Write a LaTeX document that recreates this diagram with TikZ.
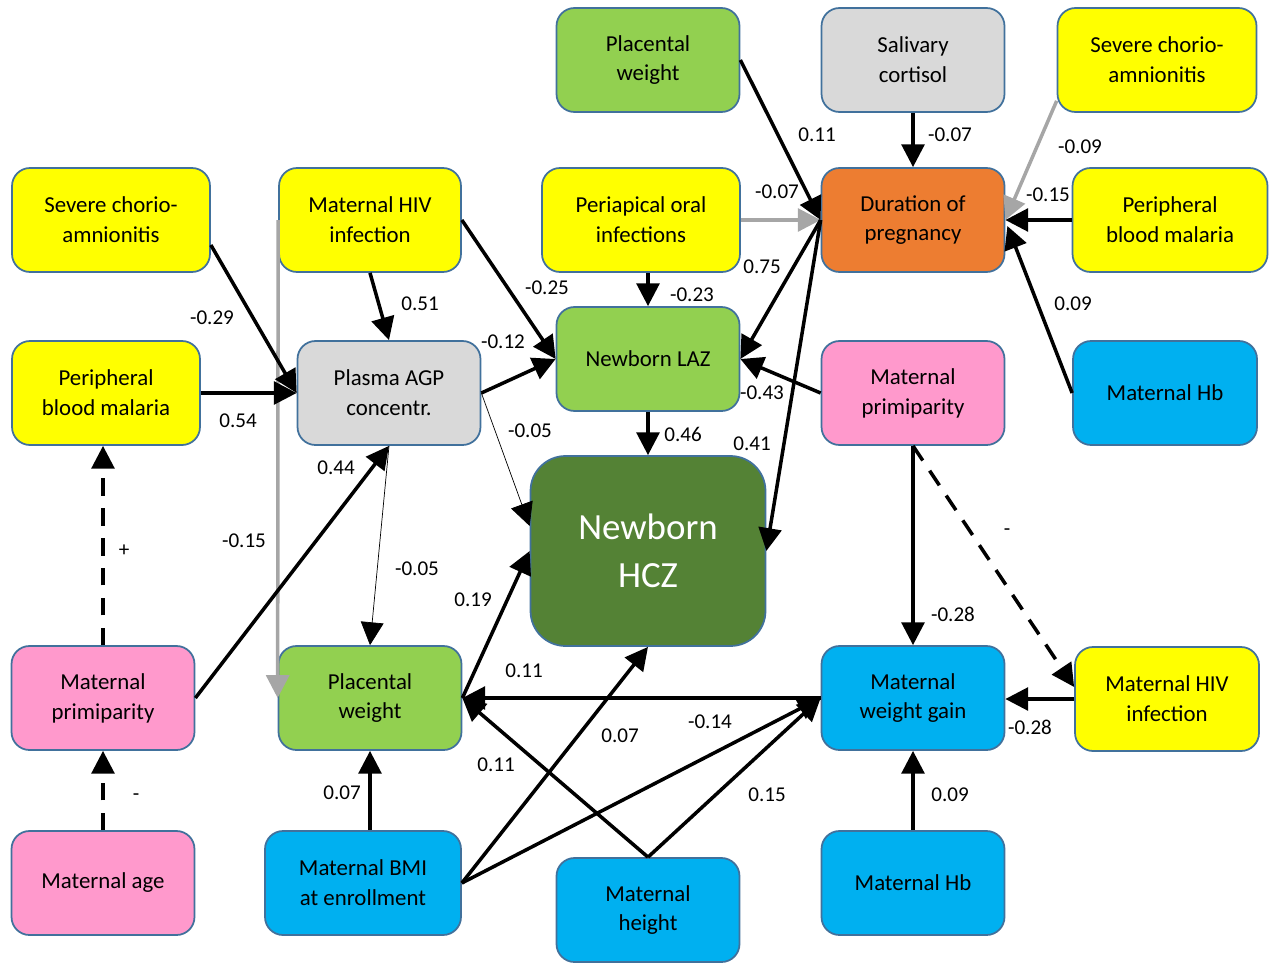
\documentclass[tikz,border=0pt]{standalone}
\usepackage{fontspec}
\setmainfont{Carlito}
\usetikzlibrary{arrows.meta,calc}
\definecolor{boxline}{HTML}{41719C}
\definecolor{cyel}{HTML}{FFFF00}
\definecolor{cgrn}{HTML}{92D050}
\definecolor{cgry}{HTML}{D9D9D9}
\definecolor{corg}{HTML}{ED7D31}
\definecolor{cpnk}{HTML}{FF99CC}
\definecolor{cblu}{HTML}{00B0F0}
\definecolor{cdgr}{HTML}{548235}
\definecolor{cgline}{HTML}{A6A6A6}
\begin{document}
\begin{tikzpicture}[x=0.02cm, y=-0.02cm, line join=round, >={Triangle[length=13pt,width=13pt]}]
    \tikzset{box/.style={draw=boxline, line width=1pt, rounded corners=0.36cm, align=center,
                 minimum width=3.66cm, minimum height=2.08cm, inner sep=2pt, font=\fontsize{13}{17}\selectfont},
             lbl/.style={font=\fontsize{12}{14}\selectfont, inner sep=0pt},
             path/.style={->, line width=2pt},
             grey path/.style={->, line width=2pt, draw=cgline, cgline},
             thin path/.style={->, line width=0.4pt},
             dash path/.style={->, line width=2pt, dash pattern=on 10pt off 7pt}}
    \useasboundingbox (0,0) rectangle (1270,963);
    \node[box, fill=cgrn] (pwt) at (648,60) {Placental\\weight};
    \node[box, fill=cgry] (sc) at (913,60) {Salivary\\cortisol};
    \node[box, fill=cyel, minimum width=3.98cm] (scar) at (1157,60) {Severe chorio-\\amnionitis};
    \node[box, fill=cyel, minimum width=3.96cm] (scal) at (111,220) {Severe chorio-\\amnionitis};
    \node[box, fill=cyel, minimum width=3.64cm] (hivt) at (370,220) {Maternal HIV\\infection};
    \node[box, fill=cyel, minimum width=3.96cm] (poi) at (641,220) {Periapical oral\\infections};
    \node[box, fill=corg] (dur) at (913,220) {Duration of\\pregnancy};
    \node[box, fill=cyel, minimum width=3.9cm] (pbmr) at (1170,220) {Peripheral\\blood malaria};
    \node[box, fill=cyel, minimum width=3.76cm] (pbml) at (106,393) {Peripheral\\blood malaria};
    \node[box, fill=cgry] (agp) at (389,393) {Plasma AGP\\concentr.};
    \node[box, fill=cgrn] (laz) at (648,359) {Newborn LAZ};
    \node[box, fill=cpnk] (mpr) at (913,393) {Maternal\\primiparity};
    \node[box, fill=cblu, minimum width=3.68cm] (hbr) at (1165,393) {Maternal Hb};
    \node[box, fill=cdgr, text=white, minimum width=4.7cm, minimum height=3.8cm, rounded corners=0.7cm,
          font=\fontsize{21}{27}\selectfont] (hcz) at (648,551) {Newborn\\HCZ};
    \node[box, fill=cpnk] (mpl) at (103,698) {Maternal\\primiparity};
    \node[box, fill=cgrn] (pwb) at (370,698) {Placental\\weight};
    \node[box, fill=cblu] (mwg) at (913,698) {Maternal\\weight gain};
    \node[box, fill=cyel, minimum width=3.68cm] (hivr) at (1167,699) {Maternal HIV\\infection};
    \node[box, fill=cpnk] (age) at (103,883) {Maternal age};
    \node[box, fill=cblu, minimum width=3.92cm] (bmi) at (363,883) {Maternal BMI\\at enrollment};
    \node[box, fill=cblu] (hgt) at (648,910) {Maternal\\height};
    \node[box, fill=cblu] (hbb) at (913,883) {Maternal Hb};

    \draw[path] (pwt.east) -- (dur.west);
    \draw[path] (sc.south) -- (dur.north);
    \draw[grey path] ($(scar.south west)+(0,-12)$) -- (dur.east);
    \draw[path] (pbmr.west) -- (dur.east);
    \draw[path] (hbr.west) -- ($(dur.east)+(2,6)$);
    \draw[grey path] (poi.east) -- (dur.west);
    \draw[path] (laz.north|-poi.south) -- (laz.north);
    \draw[path] (dur.west) -- (laz.east);
    \draw[path] (dur.west) -- (hcz.east);
    \draw[path] (mpr.west) -- (laz.east);
    \draw[path] (laz.south) -- (hcz.north);
    \draw[path] (hivt.south) -- (agp.north);
    \draw[path] (hivt.east) -- (laz.west);
    \draw[grey path] (hivt.west) -- (pwb.west);
    \draw[path] ($(scal.east)+(0,25)$) -- (agp.west);
    \draw[path] (pbml.east) -- (agp.west);
    \draw[path] (agp.east) -- (laz.west);
    \draw[thin path] (agp.east) -- ($(hcz.west)+(0,-25)$);
    \draw[thin path] (agp.south) -- (pwb.north);
    \draw[path] (mpl.east) -- (agp.south);
    \draw[dash path] (mpl.north) -- (mpl.north|-pbml.south);
    \draw[dash path] (age.north) -- (mpl.south);
    \draw[path] (pwb.east) -- (hcz.west);
    \draw[path] (mwg.west) -- (pwb.east);
    \draw[path] (hbb.north) -- (mwg.south);
    \draw[path] (mpr.south) -- (mwg.north);
    \draw[dash path] (mpr.south) -- ($(hivr.west)+(0,-12)$);
    \draw[path] (hivr.west) -- (mwg.east|-hivr.west);
    \draw[path] (pwb.south|-bmi.north) -- (pwb.south);
    \draw[path] (bmi.east) -- (hcz.south);
    \draw[path] (bmi.east) -- (mwg.west);
    \draw[path] (hgt.north) -- (pwb.east);
    \draw[path] (hgt.north) -- (mwg.west);

    \node[lbl] (l1) at (817,135) {0.11};
    \node[lbl] (l2) at (950,135) {-0.07};
    \node[lbl] (l3) at (1080,147) {-0.09};
    \node[lbl] (l4) at (1048,195) {-0.15};
    \node[lbl] (l5) at (1073,304) {0.09};
    \node[lbl] (l6) at (777,192) {-0.07};
    \node[lbl] (l7) at (692,295) {-0.23};
    \node[lbl] (l8) at (762,267) {0.75};
    \node[lbl] (l9) at (752,444) {0.41};
    \node[lbl] (l10) at (762,393) {-0.43};
    \node[lbl] (l11) at (683,434) {0.46};
    \node[lbl] (l12) at (420,304) {0.51};
    \node[lbl] (l13) at (547,288) {-0.25};
    \node[lbl] (l14) at (244,541) {-0.15};
    \node[lbl] (l15) at (212,318) {-0.29};
    \node[lbl] (l16) at (238,421) {0.54};
    \node[lbl] (l17) at (503,342) {-0.12};
    \node[lbl] (l18) at (530,431) {-0.05};
    \node[lbl] (l19) at (417,569) {-0.05};
    \node[lbl] (l20) at (336,468) {0.44};
    \node[lbl] (l21) at (124,551) {+};
    \node[lbl] (l22) at (136,797) {-};
    \node[lbl] (l23) at (473,600) {0.19};
    \node[lbl] (l24) at (524,671) {0.11};
    \node[lbl] (l25) at (950,795) {0.09};
    \node[lbl] (l26) at (953,614) {-0.28};
    \node[lbl] (l27) at (1007,532) {-};
    \node[lbl] (l28) at (1030,727) {-0.28};
    \node[lbl] (l29) at (342,793) {0.07};
    \node[lbl] (l30) at (620,736) {0.07};
    \node[lbl] (l31) at (710,722) {-0.14};
    \node[lbl] (l32) at (496,765) {0.11};
    \node[lbl] (l33) at (767,795) {0.15};
\end{tikzpicture}
\end{document}
